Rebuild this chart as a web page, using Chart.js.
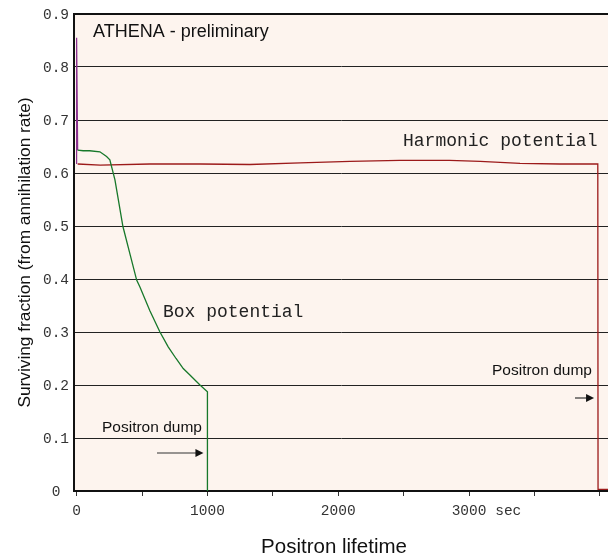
<!DOCTYPE html>
<html>
<head>
<meta charset="utf-8">
<script src="https://cdn.jsdelivr.net/npm/chart.js@4"></script>
<style>
  html, body { margin: 0; padding: 0; background: #fff; }
  #wrap { width: 608px; height: 559px; }
</style>
</head>
<body>
<div id="wrap"><canvas id="chart" width="608" height="559"></canvas></div>
<script>
// Harmonic potential (time in sec, surviving fraction)
const harmonicT = [8, 180, 560, 945, 1325, 1710, 2090, 2470, 2850, 3085, 3390, 3695, 3984, 3986, 4062];
const harmonicY = [0.617, 0.615, 0.617, 0.617, 0.616, 0.619, 0.622, 0.624, 0.624, 0.622, 0.618, 0.617, 0.617, 0.003, 0.003];

// Box potential
const boxT = [8, 50, 100, 178, 229, 254, 293, 354, 410, 459, 484, 560, 637, 700, 760, 815, 866, 943, 1000, 1000];
const boxY = [0.643, 0.642, 0.642, 0.640, 0.631, 0.625, 0.587, 0.499, 0.445, 0.398, 0.385, 0.340, 0.300, 0.272, 0.250, 0.231, 0.219, 0.200, 0.187, 0.0];

// injection spike at t = 0
const spikeT = [0, 0, 8];
const spikeY = [0.617, 0.855, 0.643];

const xTicks = [0, 500, 1000, 1500, 2000, 2500, 3000, 3500, 4000];
const xLabels = ["0", "", "1000", "", "2000", "", "3000", "", ""];
const yTicks = [0, 0.1, 0.2, 0.3, 0.4, 0.5, 0.6, 0.7, 0.8, 0.9];
const yLabels = ["0", "0.1", "0.2", "0.3", "0.4", "0.5", "0.6", "0.7", "0.8", "0.9"];

function pts(xs, ys) {
    return xs.map((x, i) => ({ x: x, y: ys[i] }));
}

const MONO = '"Liberation Mono", "DejaVu Sans Mono", monospace';
const SANS = '"Liberation Sans", Arial, sans-serif';

// background, tick labels, titles and annotations
const decor = {
    id: 'decor',
    beforeDraw(chart) {
        const { ctx, chartArea: a } = chart;
        ctx.save();
        ctx.fillStyle = '#fdf4ee';
        ctx.fillRect(a.left, a.top, a.right - a.left, a.bottom - a.top);
        ctx.restore();
    },
    afterDraw(chart) {
        const { ctx, chartArea: a } = chart;
        const xs = chart.scales.x, ys = chart.scales.y;
        ctx.save();
        ctx.fillStyle = '#333';
        ctx.font = '14.5px ' + MONO;

        // x tick labels
        ctx.textBaseline = 'alphabetic';
        ctx.textAlign = 'center';
        xTicks.forEach((v, i) => {
            if (!xLabels[i]) return;
            ctx.fillText(xLabels[i], xs.getPixelForValue(v), 515);
        });
        // unit after 3000
        const w3000 = ctx.measureText("3000").width;
        ctx.textAlign = 'left';
        ctx.fillText(" sec", xs.getPixelForValue(3000) + w3000 / 2, 515);

        // y tick labels
        ctx.textAlign = 'center';
        ctx.textBaseline = 'middle';
        yTicks.forEach((v, i) => {
            ctx.fillText(yLabels[i], 56, ys.getPixelForValue(v) + 1);
        });

        // axis titles
        ctx.fillStyle = '#111';
        ctx.font = '20.5px ' + SANS;
        ctx.textAlign = 'center';
        ctx.textBaseline = 'alphabetic';
        ctx.fillText('Positron lifetime', 334, 553);

        ctx.save();
        ctx.translate(30, (a.top + a.bottom) / 2);
        ctx.rotate(-Math.PI / 2);
        ctx.font = '17.3px ' + SANS;
        ctx.fillText('Surviving fraction (from annihilation rate)', 0, 0);
        ctx.restore();

        // labels inside the plot
        ctx.textAlign = 'left';
        ctx.font = '18px ' + SANS;
        ctx.fillText('ATHENA - preliminary', 93, 37);

        ctx.fillStyle = '#222';
        ctx.font = '18px ' + MONO;
        ctx.fillText('Harmonic potential', 403, 146);
        ctx.fillText('Box potential', 163, 317);

        ctx.fillStyle = '#111';
        ctx.font = '15.5px ' + SANS;
        ctx.fillText('Positron dump', 102, 432);
        ctx.fillText('Positron dump', 492, 375);

        drawArrow(ctx, 157, xs.getPixelForValue(1000) - 4, 453);
        drawArrow(ctx, 575, xs.getPixelForValue(3986) - 4, 398);
        ctx.restore();
    }
};

function drawArrow(ctx, x0, x1, y) {
    ctx.strokeStyle = '#333';
    ctx.lineWidth = 1.2;
    ctx.beginPath();
    ctx.moveTo(x0, y);
    ctx.lineTo(x1 - 6, y);
    ctx.stroke();
    ctx.fillStyle = '#111';
    ctx.beginPath();
    ctx.moveTo(x1, y);
    ctx.lineTo(x1 - 8, y - 4);
    ctx.lineTo(x1 - 8, y + 4);
    ctx.closePath();
    ctx.fill();
}

const chart = new Chart(document.getElementById('chart'), {
    type: 'scatter',
    data: {
        datasets: [
            {
                label: 'Box potential',
                data: pts(boxT, boxY),
                showLine: true,
                borderColor: '#17782a',
                borderWidth: 1.3,
                pointRadius: 0,
                tension: 0
            },
            {
                label: 'Harmonic potential',
                data: pts(harmonicT, harmonicY),
                showLine: true,
                borderColor: '#9c1a1a',
                borderWidth: 1.3,
                pointRadius: 0,
                tension: 0
            },
            {
                label: 'spike',
                data: pts(spikeT, spikeY),
                showLine: true,
                borderColor: '#8a2f8f',
                borderWidth: 1.2,
                pointRadius: 0,
                tension: 0
            }
        ]
    },
    options: {
        responsive: false,
        animation: false,
        layout: { padding: { top: 14, right: 0, left: 0, bottom: 0 } },
        plugins: {
            legend: { display: false },
            tooltip: { enabled: false }
        },
        scales: {
            x: {
                type: 'linear',
                min: -20,
                max: 4062,
                afterBuildTicks: (s) => { s.ticks = xTicks.map(v => ({ value: v })); },
                afterFit: (s) => { s.height = 68; },
                ticks: { display: false },
                grid: {
                    display: true,
                    drawOnChartArea: false,
                    drawTicks: true,
                    tickLength: 5,
                    color: '#333'
                },
                border: { display: true, color: '#111', width: 2 }
            },
            y: {
                type: 'linear',
                min: 0,
                max: 0.9,
                afterBuildTicks: (s) => { s.ticks = yTicks.map(v => ({ value: v })); },
                afterFit: (s) => { s.width = 74; },
                ticks: { display: false },
                grid: {
                    display: true,
                    drawTicks: false,
                    color: (c) => c.tick && c.tick.value === 0.9 ? '#111' : '#222',
                    lineWidth: (c) => c.tick && c.tick.value === 0.9 ? 2 : 1
                },
                border: { display: true, color: '#111', width: 2 }
            }
        }
    },
    plugins: [decor]
});
</script>
</body>
</html>
